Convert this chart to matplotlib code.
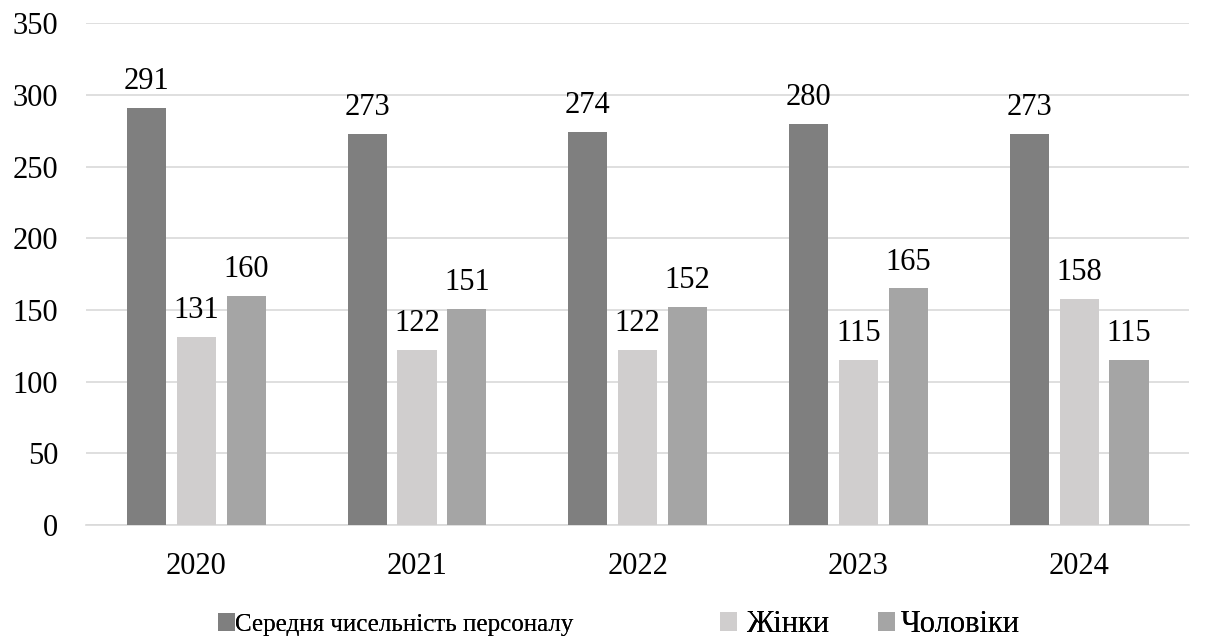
import matplotlib
matplotlib.use("Agg")
import matplotlib.pyplot as plt
from matplotlib.patches import Patch
import numpy as np

years = ["2020", "2021", "2022", "2023", "2024"]
series_names = ["Середня чисельність персоналу", "Жінки", "Чоловіки"]
total = [291, 273, 274, 280, 273]
women = [131, 122, 122, 115, 158]
men = [160, 151, 152, 165, 115]
colors = ["#7f7f7f", "#d0cece", "#a5a5a5"]

plt.rcParams['font.family'] = 'serif'
plt.rcParams['font.serif'] = ['Liberation Serif', 'DejaVu Serif']

fig = plt.figure(figsize=(12.14, 6.42), dpi=100)
ax = fig.add_axes([0.0708, 0.182, 0.909, 0.782])

x = np.arange(len(years))
width = 0.177
offset = 0.226
for i, (vals, name, c) in enumerate(zip([total, women, men], series_names, colors)):
    pos = x + (i - 1) * offset
    ax.bar(pos, vals, width, color=c, label=name, zorder=3)
    for p, v in zip(pos, vals):
        ax.annotate(str(v), (p, v), xytext=(0, 13.5), textcoords='offset points',
                    ha='center', va='baseline', fontsize=22, color='black')

ax.set_xlim(-0.5, len(years) - 0.5)
ax.set_ylim(0, 350)
ax.set_yticks(range(0, 351, 50))
ax.set_xticks(x)
ax.set_xticklabels(years)
ax.tick_params(axis='both', length=0, labelsize=22, colors='black')
ax.tick_params(axis='x', pad=19)
ax.tick_params(axis='y', pad=20)
ax.grid(axis='y', color='#d9d9d9', linewidth=1.2, zorder=0)
for s in ['top', 'right', 'left']:
    ax.spines[s].set_visible(False)
ax.spines['bottom'].set_color('#d9d9d9')
ax.spines['bottom'].set_linewidth(1.2)

# legend entries placed individually (reference spacing is uneven)
leg_x = [0.1796, 0.593, 0.723]
leg_fs = [18, 22, 22]
leg_pad = [0.0, 0.3, 0.2]
for name, c, lx, fs, tp in zip(series_names, colors, leg_x, leg_fs, leg_pad):
    hl = 17.0 / (fs * 100 / 72)
    lg = fig.legend(handles=[Patch(facecolor=c, edgecolor='none')], labels=[name],
                    loc='center left', bbox_to_anchor=(lx, 0.027),
                    bbox_transform=fig.transFigure, frameon=False, fontsize=fs,
                    handlelength=hl, handleheight=hl, handletextpad=tp,
                    borderpad=0, borderaxespad=0)
    fig.add_artist(lg)

fig.savefig("out.png", dpi=100)
